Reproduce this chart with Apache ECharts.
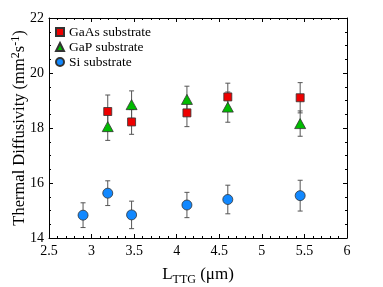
<!DOCTYPE html>
<html><head><meta charset="utf-8">
<script src="https://cdn.jsdelivr.net/npm/echarts@6/dist/echarts.min.js"></script>
<style>html,body{margin:0;padding:0;background:#fff}#c{width:383px;height:287px}</style>
</head><body><div id="c"></div>
<script>
const gaasX = [3.19, 3.47, 4.12, 4.60, 5.45];
const gaasY = [18.60, 18.22, 18.55, 19.13, 19.10];
const gaasErr = [0.60, 0.45, 0.50, 0.50, 0.55];
const gapX = [3.19, 3.47, 4.12, 4.60, 5.45];
const gapY = [18.05, 18.85, 19.04, 18.76, 18.16];
const gapErr = [0.50, 0.50, 0.48, 0.55, 0.46];
const siX = [2.90, 3.19, 3.47, 4.12, 4.60, 5.45];
const siY = [14.83, 15.63, 14.84, 15.20, 15.40, 15.54];
const siErr = [0.45, 0.45, 0.50, 0.46, 0.52, 0.56];
const xTicks = [2.5, 3, 3.5, 4, 4.5, 5, 5.5, 6];
const yTicks = [14, 16, 18, 20, 22];

const FONT = 'Liberation Serif';
const chart = echarts.init(document.getElementById('c'), null, {renderer: 'canvas'});

function errSeries(xs, ys, es, z) {
  return {
    type: 'custom', xAxisIndex: 0, yAxisIndex: 0, z: z, silent: true,
    data: xs.map((x, i) => [x, ys[i] - es[i], ys[i] + es[i]]),
    renderItem: function (params, api) {
      const lo = api.coord([api.value(0), api.value(1)]);
      const hi = api.coord([api.value(0), api.value(2)]);
      const w = 2.5;
      const st = {stroke: '#555', lineWidth: 1};
      return {type: 'group', children: [
        {type: 'line', shape: {x1: lo[0], y1: lo[1], x2: hi[0], y2: hi[1]}, style: st},
        {type: 'line', shape: {x1: lo[0] - w, y1: lo[1], x2: lo[0] + w, y2: lo[1]}, style: st},
        {type: 'line', shape: {x1: hi[0] - w, y1: hi[1], x2: hi[0] + w, y2: hi[1]}, style: st}
      ]};
    }
  };
}
function pts(x, y) { return x.map((v, i) => [v, y[i]]); }

const axisCommon = {
  min: 2.5, max: 6, interval: 0.5,
  axisLine: {show: true, onZero: false, lineStyle: {color: '#000', width: 1}},
  axisTick: {show: true, inside: true, length: 4, lineStyle: {color: '#000'}},
  minorTick: {show: true, splitNumber: 5, length: 2, lineStyle: {color: '#000'}},
  splitLine: {show: false}
};
const yCommon = {
  min: 14, max: 22, interval: 2,
  axisLine: {show: true, onZero: false, lineStyle: {color: '#000', width: 1}},
  axisTick: {show: true, inside: true, length: 4, lineStyle: {color: '#000'}},
  minorTick: {show: true, splitNumber: 4, length: 2, lineStyle: {color: '#000'}},
  splitLine: {show: false}
};

chart.setOption({
  animation: false,
  backgroundColor: '#fff',
  textStyle: {fontFamily: FONT},
  grid: {left: 49, right: 36, top: 18, bottom: 49, containLabel: false, outerBoundsMode: 'none'},
  legend: {
    left: 50, top: 20, orient: 'vertical', itemGap: 1, itemWidth: 8, itemHeight: 8,
    textStyle: {fontFamily: FONT, fontSize: 13.5, color: '#000'},
    data: [
      {name: 'GaAs substrate', icon: 'rect'},
      {name: 'GaP substrate', icon: 'triangle'},
      {name: 'Si substrate', icon: 'circle'}
    ]
  },
  xAxis: [
    Object.assign({}, axisCommon, {
      type: 'value', position: 'bottom',
      axisLabel: {fontFamily: FONT, fontSize: 14, color: '#000', margin: 6,
        formatter: v => xTicks.indexOf(v) >= 0 ? String(v) : ''},
      name: '{n|L}{s|TTG}{n| (μm)}', nameLocation: 'middle', nameGap: 26, nameMoveOverlap: false,
      nameTextStyle: {rich: {
        n: {fontFamily: FONT, fontSize: 17, color: '#000'},
        s: {fontFamily: FONT, fontSize: 12, color: '#000', verticalAlign: 'bottom', padding: [10, 0, 0, 0]}
      }}
    }),
    Object.assign({}, axisCommon, {type: 'value', position: 'top', axisLabel: {show: false}})
  ],
  yAxis: [
    Object.assign({}, yCommon, {
      type: 'value', position: 'left',
      axisLabel: {fontFamily: FONT, fontSize: 14, color: '#000', margin: 5,
        formatter: v => yTicks.indexOf(v) >= 0 ? String(v) : ''},
      name: '{n|Thermal Diffusivity (mm}{p|2}{n|s}{p|-1}{n|)}', nameLocation: 'middle', nameGap: 19, nameMoveOverlap: false,
      nameTextStyle: {rich: {
        n: {fontFamily: FONT, fontSize: 16.5, color: '#000'},
        p: {fontFamily: FONT, fontSize: 12, color: '#000', verticalAlign: 'top', padding: [0, 0, 8, 0]}
      }}
    }),
    Object.assign({}, yCommon, {type: 'value', position: 'right', axisLabel: {show: false}})
  ],
  series: [
    errSeries(siX, siY, siErr, 1),
    errSeries(gaasX, gaasY, gaasErr, 1),
    errSeries(gapX, gapY, gapErr, 1),
    {name: 'Si substrate', type: 'scatter', z: 3, symbol: 'circle', symbolSize: 10,
      itemStyle: {color: '#1188ff', borderColor: '#333', borderWidth: 0.8, opacity: 1},
      data: pts(siX, siY)},
    {name: 'GaAs substrate', type: 'scatter', z: 3, symbol: 'rect', symbolSize: 8,
      itemStyle: {color: '#ee0000', borderColor: '#333', borderWidth: 0.8, opacity: 1},
      data: pts(gaasX, gaasY)},
    {name: 'GaP substrate', type: 'scatter', z: 4, symbol: 'triangle', symbolSize: [11, 10],
      itemStyle: {color: '#00bb00', borderColor: '#333', borderWidth: 0.8, opacity: 1},
      data: pts(gapX, gapY)}
  ]
});
</script></body></html>
